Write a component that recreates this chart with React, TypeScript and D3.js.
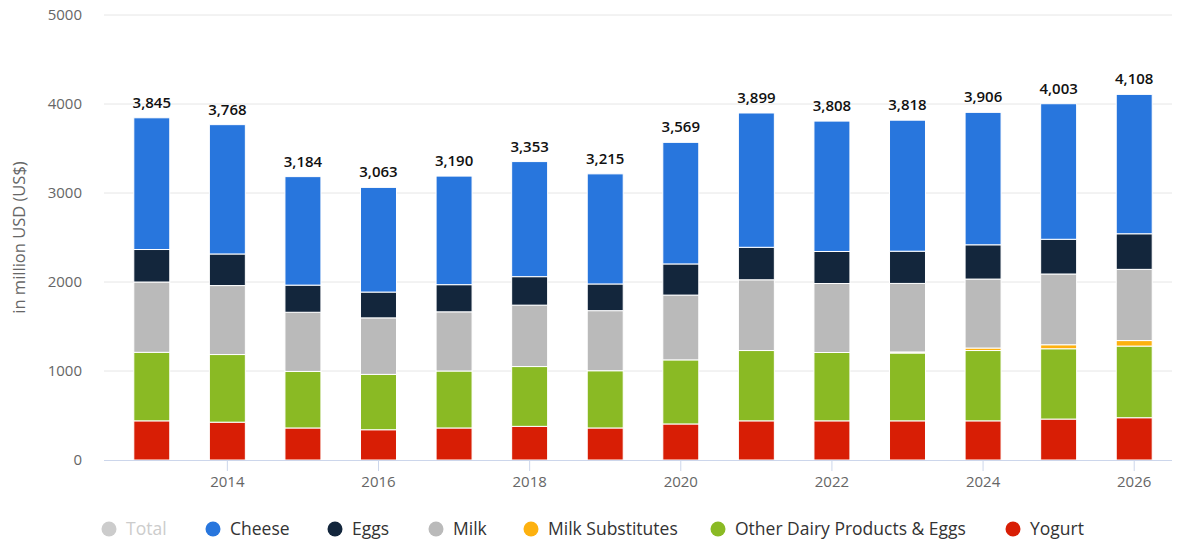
import React from "react";
import * as d3 from "d3";

const years = [2013, 2014, 2015, 2016, 2017, 2018, 2019, 2020, 2021, 2022, 2023, 2024, 2025, 2026];
const totals = [3845, 3768, 3184, 3063, 3190, 3353, 3215, 3569, 3899, 3808, 3818, 3906, 4003, 4108];
const yogurt = [440, 425, 360, 340, 360, 378, 360, 405, 440, 440, 440, 440, 460, 475];
const otherDairy = [770, 760, 635, 622, 640, 672, 643, 720, 790, 768, 762, 790, 790, 805];
const milkSubstitutes = [0, 0, 0, 0, 0, 0, 0, 0, 0, 0, 12, 28, 45, 62];
const milk = [790, 775, 665, 635, 665, 690, 675, 728, 795, 775, 770, 775, 795, 800];
const eggs = [365, 355, 305, 290, 305, 320, 300, 350, 365, 360, 362, 385, 390, 400];
const cheese = totals.map((t, i) => t - yogurt[i] - otherDairy[i] - milkSubstitutes[i] - milk[i] - eggs[i]);
const yTicks = [0, 1000, 2000, 3000, 4000, 5000];
const xTickYears = [2014, 2016, 2018, 2020, 2022, 2024, 2026];

const seriesDefs = [
  { name: "Yogurt", values: yogurt, color: "#d81e05" },
  { name: "Other Dairy Products & Eggs", values: otherDairy, color: "#8aba24" },
  { name: "Milk Substitutes", values: milkSubstitutes, color: "#fdb10f" },
  { name: "Milk", values: milk, color: "#bababa" },
  { name: "Eggs", values: eggs, color: "#13263c" },
  { name: "Cheese", values: cheese, color: "#2876dd" },
];

const legendItems = [
  { name: "Total", color: "#cccccc", text: "#cccccc", cx: 109 },
  { name: "Cheese", color: "#2876dd", text: "#333333", cx: 213 },
  { name: "Eggs", color: "#13263c", text: "#333333", cx: 335 },
  { name: "Milk", color: "#bababa", text: "#333333", cx: 436 },
  { name: "Milk Substitutes", color: "#fdb10f", text: "#333333", cx: 531 },
  { name: "Other Dairy Products & Eggs", color: "#8aba24", text: "#333333", cx: 718 },
  { name: "Yogurt", color: "#d81e05", text: "#333333", cx: 1013 },
];

const W = 1181;
const H = 540;
const font = "'Open Sans', 'DejaVu Sans', sans-serif";

export default function App() {
  const x = d3.scaleBand<number>().domain(years).range([114, 1172]).paddingInner(0.524).paddingOuter(0.262);
  const y = d3.scaleLinear().domain([0, 5000]).range([460, 15]);

  const table = years.map((yr, i) => {
    const row: any = { year: yr };
    seriesDefs.forEach((s) => (row[s.name] = s.values[i]));
    return row;
  });
  const stacked = d3.stack<any>().keys(seriesDefs.map((s) => s.name))(table);

  return (
    <div style={{ position: "absolute", left: 0, top: 0 }}>
      <svg width={W} height={H} style={{ display: "block", background: "#fff" }} fontFamily={font}>
        {yTicks.map((t) => (
          <g key={t}>
            {t > 0 && <line x1={104} x2={1172} y1={y(t)} y2={y(t)} stroke="#e6e6e6" strokeWidth={1} />}
            <text x={82} y={y(t)} dy="0.35em" textAnchor="end" fontSize={15} fill="#666666">
              {t}
            </text>
          </g>
        ))}
        <text
          transform={`translate(25,${(y(0) + y(5000)) / 2}) rotate(-90)`}
          textAnchor="middle"
          fontSize={16.5}
          fill="#666666"
        >
          in million USD (US$)
        </text>
        {stacked.map((layer, li) => (
          <g key={layer.key} fill={seriesDefs[li].color}>
            {layer.map((d, i) =>
              d[1] - d[0] > 0 ? (
                <rect
                  key={i}
                  x={x(years[i])!}
                  width={x.bandwidth()}
                  y={y(d[1])}
                  height={y(d[0]) - y(d[1])}
                  stroke="#ffffff"
                  strokeWidth={1}
                />
              ) : null
            )}
          </g>
        ))}
        <line x1={104} x2={1172} y1={460.5} y2={460.5} stroke="#ccd6eb" strokeWidth={1} />
        {xTickYears.map((yr) => {
          const cx = x(yr)! + x.bandwidth() / 2;
          return (
            <g key={yr}>
              <line x1={cx} x2={cx} y1={461} y2={471} stroke="#ccd6eb" strokeWidth={1} />
              <text x={cx} y={487} textAnchor="middle" fontSize={15} fill="#666666">
                {yr}
              </text>
            </g>
          );
        })}
        {totals.map((t, i) => (
          <text
            key={i}
            x={x(years[i])! + x.bandwidth() / 2}
            y={y(t) - 10}
            textAnchor="middle"
            fontSize={15}
            fontWeight={600}
            fill="#111111"
          >
            {d3.format(",")(t)}
          </text>
        ))}
        {legendItems.map((l) => (
          <g key={l.name}>
            <circle cx={l.cx} cy={529} r={7.5} fill={l.color} />
            <text x={l.cx + 17} y={529} dy="0.35em" fontSize={17.5} fill={l.text}>
              {l.name}
            </text>
          </g>
        ))}
      </svg>
    </div>
  );
}
